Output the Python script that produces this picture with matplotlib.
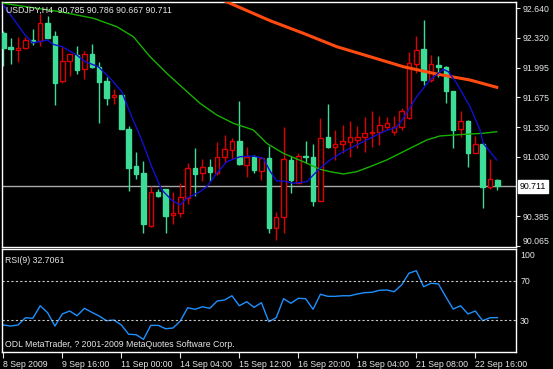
import matplotlib.pyplot as plt
import matplotlib.transforms as mtransforms
import numpy as np

plt.rcParams['font.family'] = ['Liberation Sans', 'DejaVu Sans']

# USDJPY H4 bars, 8 Sep 2009 08:00 onwards
opens = [92.369, 92.218, 92.185, 92.207, 92.300, 92.289, 92.478, 92.340, 91.849, 92.066,
         92.131, 91.979, 92.142, 92.007, 91.852, 91.676, 91.701, 91.336, 90.932, 90.852,
         90.282, 90.650, 90.682, 90.397, 90.419, 90.582, 90.907, 90.852, 90.917, 90.852,
         91.032, 91.105, 91.202, 90.942, 91.032, 90.881, 91.015, 90.257, 90.376, 90.997,
         90.751, 91.043, 91.026, 90.556, 91.249, 91.141, 91.170, 91.188, 91.213, 91.242,
         91.286, 91.303, 91.357, 91.303, 91.351, 91.448, 92.033, 92.199, 91.863, 92.026,
         92.007, 91.744, 91.329, 91.422, 91.076, 91.170, 90.707, 90.785]
highs = [92.394, 92.322, 92.326, 92.326, 92.413, 92.575, 92.560, 92.397, 92.224, 92.145,
         92.232, 92.181, 92.250, 92.058, 91.899, 91.763, 91.701, 91.365, 91.083, 90.982,
         90.718, 90.679, 90.682, 90.653, 90.751, 90.961, 91.123, 91.004, 91.011, 91.195,
         91.267, 91.232, 91.636, 91.141, 91.051, 91.032, 91.148, 90.437, 91.357, 91.040,
         91.069, 91.206, 91.170, 91.448, 91.603, 91.322, 91.376, 91.422, 91.365, 91.466,
         91.527, 91.473, 91.459, 91.473, 91.557, 92.170, 92.340, 92.513, 92.134, 92.123,
         92.015, 91.744, 91.531, 91.433, 91.257, 91.184, 91.004, 90.786]
lows = [92.018, 92.033, 92.055, 92.199, 92.242, 92.235, 92.318, 91.592, 91.828, 91.907,
        91.928, 91.871, 91.990, 91.401, 91.592, 91.603, 91.329, 90.664, 90.787, 90.202,
        90.274, 90.599, 90.202, 90.303, 90.376, 90.517, 90.607, 90.772, 90.769, 90.834,
        90.967, 91.004, 90.942, 90.816, 90.852, 90.780, 90.209, 90.130, 90.202, 90.636,
        90.744, 90.967, 90.498, 90.552, 91.123, 90.997, 91.069, 91.032, 91.127, 91.087,
        91.141, 91.159, 91.322, 91.267, 91.322, 91.441, 91.942, 91.809, 91.845, 91.893,
        91.611, 91.123, 91.249, 90.924, 91.069, 90.473, 90.679, 90.667]
closes = [92.213, 92.196, 92.207, 92.297, 92.272, 92.478, 92.322, 91.834, 92.069, 92.142,
          91.975, 92.145, 92.007, 91.845, 91.672, 91.701, 91.336, 90.913, 90.842, 90.300,
          90.647, 90.607, 90.393, 90.426, 90.592, 90.907, 90.845, 90.917, 90.863, 91.032,
          91.113, 91.206, 90.950, 91.032, 90.888, 91.015, 90.263, 90.376, 91.004, 90.780,
          91.040, 91.029, 90.556, 91.238, 91.134, 91.170, 91.206, 91.242, 91.249, 91.286,
          91.303, 91.376, 91.394, 91.357, 91.527, 92.044, 92.188, 91.863, 92.033, 92.007,
          91.744, 91.322, 91.419, 91.069, 91.170, 90.707, 90.787, 90.711]

rsi = [25.3, 24.2, 25.3, 32.6, 32.0, 44.7, 37.7, 24.2, 36.4, 39.4,
       34.6, 42.1, 38.1, 34.3, 29.6, 30.3, 25.3, 15.9, 15.5, 10.8,
       24.9, 24.9, 21.5, 22.2, 29.3, 42.7, 41.1, 43.7, 42.1, 49.5,
       50.5, 54.8, 44.7, 48.8, 43.1, 47.8, 28.6, 32.6, 51.8, 47.2,
       52.2, 51.8, 41.1, 56.3, 54.2, 54.2, 54.8, 54.8, 56.6, 57.9,
       58.3, 60.3, 60.6, 58.9, 65.7, 77.5, 80.1, 63.9, 67.4, 66.7,
       53.8, 41.4, 44.7, 36.4, 39.4, 29.6, 32.6, 32.7]

# moving averages (bar position, price)
ma_fast_x = [0, 2.94, 3.99, 4.98, 5.97, 6.74, 7.96, 9.95, 11.08, 12.88, 14.70, 16.05, 17.41,
             18.77, 20.12, 21.48, 22.83, 23.96, 24.87, 26.67, 27.58, 28.94, 30.29, 32.10,
             33.90, 35.25, 36.16, 37.07, 37.97, 39.32, 41.14, 42.03, 42.94, 44.30, 46.10,
             47.92, 49.72, 51.53, 53.34, 54.24, 56.05, 57.86, 59.66, 60.34, 61.48, 63.28,
             64.64, 65.08, 66.90]
ma_fast_y = [92.676, 92.351, 92.267, 92.278, 92.297, 92.250, 92.224, 92.134, 92.062, 92.007,
             91.863, 91.737, 91.466, 91.213, 90.924, 90.672, 90.563, 90.509, 90.582, 90.653,
             90.707, 90.852, 90.978, 91.032, 91.040, 91.015, 90.877, 90.769, 90.769, 90.744,
             90.761, 90.834, 90.907, 90.997, 91.087, 91.159, 91.232, 91.303, 91.354, 91.448,
             91.682, 91.863, 91.979, 91.953, 91.828, 91.574, 91.322, 91.177, 90.997]

ma_mid_x = [0, 7.69, 12.20, 15.38, 17.63, 19.89, 22.16, 24.41, 26.67, 28.94, 31.19, 33.90,
            35.72, 37.97, 40.68, 42.94, 44.30, 46.10, 47.92, 49.72, 51.99, 53.79, 55.59,
            57.41, 59.21, 61.02, 63.28, 65.08, 66.90]
ma_mid_y = [92.694, 92.603, 92.532, 92.441, 92.332, 92.116, 91.936, 91.773, 91.611, 91.484,
            91.394, 91.322, 91.177, 91.069, 90.978, 90.896, 90.870, 90.845, 90.870, 90.924,
            90.997, 91.069, 91.141, 91.213, 91.257, 91.267, 91.278, 91.286, 91.303]

ma_slow_x = [29.4, 36.16, 40.68, 45.21, 49.72, 54.24, 58.77, 63.28, 66.90]
ma_slow_y = [92.741, 92.506, 92.369, 92.224, 92.116, 92.007, 91.928, 91.863, 91.784]

time_labels = ["8 Sep 2009", "9 Sep 16:00", "11 Sep 00:00", "14 Sep 04:00", "15 Sep 12:00",
               "16 Sep 20:00", "18 Sep 04:00", "21 Sep 08:00", "22 Sep 16:00"]
time_label_bars = [0, 8, 16, 24, 32, 40, 48, 56, 64]
price_ticks = [92.640, 92.320, 91.995, 91.675, 91.350, 91.030, 90.385, 90.065]
last_price = 90.711

bull_col = "#dd0000"
bear_col = "#3ddc97"
txt_col = "#e6e6e6"
fs = 6.3

fig = plt.figure(figsize=(5.53, 3.69), dpi=100, facecolor="black")
ax = fig.add_axes([2 / 553, 1 - 247 / 369, 514 / 553, 245 / 369])
ax2 = fig.add_axes([2 / 553, 1 - 352 / 369, 514 / 553, 103 / 369])

for a in (ax, ax2):
    a.set_facecolor("black")
    for s in a.spines.values():
        s.set_color("white")
        s.set_linewidth(1)
    a.set_xlim(-0.18, 69.52)

# candles
idx = np.arange(len(opens))
for i in idx:
    o, h, l, c = opens[i], highs[i], lows[i], closes[i]
    up = c >= o
    col = bull_col if up else bear_col
    ax.vlines(i, l, h, color=col, lw=1, zorder=2)
    ax.bar(i, max(abs(c - o), 0.004), 0.6, min(o, c),
           facecolor="black" if up else bear_col, edgecolor=col, lw=1, zorder=3)

ax.axhline(last_price, color="#a8a8a8", lw=1, zorder=1)
ax.plot(ma_slow_x, ma_slow_y, color="#ff4a10", lw=2.2, zorder=4)
ax.plot(ma_mid_x, ma_mid_y, color="#18b000", lw=1, zorder=4)
ax.plot(ma_fast_x, ma_fast_y, color="#1010d0", lw=1, zorder=5)

ax.set_ylim(90.054, 92.708)
ax.yaxis.tick_right()
ax.set_yticks(price_ticks)
ax.set_yticklabels([f"{p:.3f}" for p in price_ticks])
ax.tick_params(axis="y", colors=txt_col, length=3, labelsize=fs, pad=2)
ax.tick_params(axis="x", bottom=False, labelbottom=False)
# lowest price label sits just above the pane edge
ax.get_yticklabels()[-1].set_va("bottom")

trans = mtransforms.blended_transform_factory(ax.transAxes, ax.transData)
ax.text(1.008, last_price, "90.711", transform=trans, va="center", ha="left",
        fontsize=fs, color="black",
        bbox=dict(boxstyle="square,pad=0.2", facecolor="white", edgecolor="white"))

ax.text(0.008, 0.985, "USDJPY,H4  90.785 90.786 90.667 90.711", transform=ax.transAxes,
        va="top", ha="left", fontsize=fs, color=txt_col, zorder=6)

# RSI pane
ax2.plot(idx, rsi, color="#1e90ff", lw=1)
for lvl in (70, 30):
    ax2.axhline(lvl, color="#c8c8c8", lw=0.8, ls=(0, (2, 2)))
ax2.set_ylim(-2, 102)
ax2.yaxis.tick_right()
ax2.set_yticks([100, 70, 30])
ax2.tick_params(axis="y", colors=txt_col, length=0, labelsize=fs, pad=3)
ax2.get_yticklabels()[0].set_va("top")
ax2.set_xticks(time_label_bars)
ax2.set_xticklabels(time_labels, ha="left")
ax2.tick_params(axis="x", colors=txt_col, length=4, labelsize=fs, pad=2)

ax2.text(0.006, 0.93, "RSI(9) 32.7061", transform=ax2.transAxes, va="top", ha="left",
         fontsize=fs, color=txt_col)
ax2.text(0.006, 0.03, "ODL MetaTrader, ? 2001-2009 MetaQuotes Software Corp.",
         transform=ax2.transAxes, va="bottom", ha="left", fontsize=fs, color=txt_col)

fig.savefig("out.png", dpi=100, facecolor="black")
